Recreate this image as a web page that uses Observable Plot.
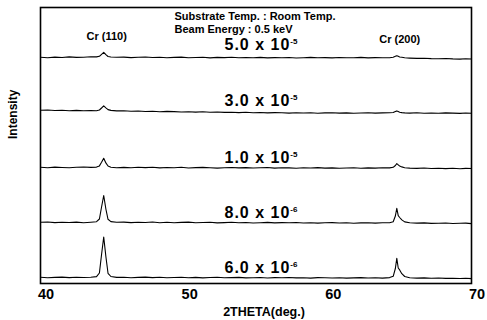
<!DOCTYPE html>
<html>
<head>
<meta charset="utf-8">
<script src="https://cdn.jsdelivr.net/npm/d3@7"></script>
<script src="https://cdn.jsdelivr.net/npm/@observablehq/plot@0.6"></script>
<style>
  html, body { margin: 0; padding: 0; background: #fff; }
  #chart svg { display: block; }
</style>
</head>
<body>
<div id="chart"></div>
<script>
// 2θ grid (deg.)
const angles = [40, 40.5, 41, 41.5, 42, 42.5, 43, 43.5,
  43.9, 44.1, 44.25, 44.4, 44.55, 44.7, 44.9,
  45.3,
  45.8, 46.3, 46.8, 47.3, 47.8, 48.3, 48.8, 49.3, 49.8, 50.3, 50.8, 51.3, 51.8, 52.3, 52.8, 53.3, 53.8, 54.3, 54.8,
  55.3, 55.8, 56.3, 56.8, 57.3, 57.8, 58.3, 58.8, 59.3, 59.8, 60.3, 60.8, 61.3, 61.8, 62.3, 62.8, 63.3, 63.8,
  64.3, 64.55, 64.7, 64.8, 64.9, 65.0, 65.15, 65.35,
  65.7, 66.2, 66.7, 67.2, 67.7, 68.2, 68.7, 69.2, 69.6, 70];

// pressure labels (mantissa x 10^exponent)
const mantissas = ["5.0", "3.0", "1.0", "8.0", "6.0"];
const exponents = ["-5", "-5", "-5", "-6", "-6"];
// vertical stacking offsets of the traces (a.u.)
const offsets = [226, 173, 116, 61, 6];

// intensities (a.u.) for each trace
const intensity1 = [0.3, -0.2, 0.4, 0, 0.6, 0.1, 0.3, 0.7,
  0.6, 1.2, 3.2, 5.2, 2.8, 1.0, 0.5,
  0.2,
  0.4, -0.1, 0.3, 0.5, 0, 0.2, -0.3, 0.1, 0.4, -0.2, 0, 0.3, -0.4, 0.1, -0.1, 0.2, -0.3, 0, -0.2,
  0.1, -0.4, -0.1, -0.3, 0, -0.5, -0.2, 0.1, -0.3, -0.1, -0.4, 0, -0.3, -0.2, 0.1, -0.4, -0.1, -0.2,
  -0.2, 0.3, 1.2, 1.8, 1.2, 0.5, 0.2, -0.3,
  -0.6, -0.9, -0.7, -1.1, -1.3, -1.0, -1.4, -1.6, -1.3, -1.5];
const intensity2 = [0.2, 0.5, 0, 0.3, -0.2, 0.1, -0.3, 0,
  -0.2, 0.5, 2.5, 4.6, 2.6, 0.9, 0.1,
  -0.4,
  -0.3, -0.8, -0.5, -1.0, -0.7, -1.2, -0.9, -1.1, -1.5, -1.2, -1.6, -1.3, -1.8, -1.5, -1.9, -1.7, -2.1, -1.8, -2.2,
  -2.0, -2.4, -2.1, -2.3, -2.6, -2.2, -2.5, -2.3, -2.7, -2.4, -2.2, -2.6, -2.4, -2.8, -2.5, -2.3, -2.6, -2.4,
  -2.3, -2.0, -1.0, -0.4, -1.0, -1.7, -2.1, -2.4,
  -2.6, -2.3, -2.7, -2.5, -2.8, -2.4, -2.6, -2.9, -2.5, -2.7];
const intensity3 = [0.3, -0.2, 0.4, 0, -0.3, 0.2, 0.5, 0.1,
  0.4, 1.6, 5.2, 9.2, 4.6, 1.5, 0.3,
  -0.2,
  0.1, -0.3, 0.2, -0.1, 0.3, -0.4, 0, -0.2, 0.2, -0.5, -0.1, 0.1, -0.3, -0.6, -0.2, 0, -0.4, -0.1, -0.5,
  -0.3, 0, -0.6, -0.2, -0.4, -0.7, -0.3, -0.5, -0.1, -0.6, -0.4, -0.8, -0.5, -0.3, -0.7, -0.4, -0.6, -0.3,
  -0.4, 0.2, 2.0, 3.8, 2.6, 1.4, 0.6, -0.2,
  -0.6, -0.9, -0.5, -1.0, -0.7, -1.1, -0.8, -1.2, -0.9, -1.0];
const intensity4 = [0.2, 0.5, -0.1, 0.3, 0, 0.4, -0.2, 0.3,
  0.8, 3.5, 15.5, 27, 13.5, 3.2, 0.9,
  0.2,
  0.4, -0.1, 0.3, 0, 0.5, -0.2, 0.2, -0.3, 0.1, 0.4, -0.2, 0, 0.3, -0.4, -0.1, 0.2, -0.3, 0, -0.5,
  -0.2, 0.1, -0.4, -0.1, -0.3, 0, -0.5, -0.2, -0.6, -0.3, -0.1, -0.5, -0.2, -0.7, -0.4, -0.2, -0.6, -0.3,
  -0.2, 0.8, 6.5, 14.2, 6.8, 5.0, 2.6, 0.6,
  -0.3, -0.6, -0.4, -0.9, -0.7, -0.5, -1.0, -0.8, -0.6, -1.1];
const intensity5 = [0.2, -0.3, 0.1, 0.4, -0.1, 0.3, 0, 0.2,
  0.9, 4.5, 23, 40.5, 21, 4.2, 1.0,
  0.1,
  0.3, -0.2, 0.1, 0.4, -0.1, 0.2, -0.3, 0, 0.3, -0.2, 0.1, -0.4, 0, 0.2, -0.3, -0.1, 0.1, -0.4, -0.2,
  0, -0.5, -0.1, -0.3, 0, -0.4, -0.2, -0.6, -0.1, -0.3, -0.5, -0.2, -0.6, -0.4, -0.1, -0.5, -0.3, -0.6,
  -0.1, 1.2, 9.0, 19.2, 9.5, 7.6, 3.8, 1.0,
  -0.2, -0.6, -0.4, -0.8, -0.5, -0.9, -0.7, -1.0, -0.8, -1.1];

const xTicks = [40, 50, 60, 70];
const peakLabels = ["Cr (110)", "Cr (200)"];
const peakAngles = [44.4, 64.8];
const headerLines = ["Substrate Temp. : Room Temp.", "Beam Energy : 0.5 keV"];
const xLabel = "2THETA(deg.)";
const yLabel = "Intensity";

const intensities = [intensity1, intensity2, intensity3, intensity4, intensity5];
const rows = intensities.flatMap((arr, i) =>
  arr.map((v, j) => ({angle: angles[j], value: v + offsets[i], series: i})));
const labelRows = mantissas.map((m, i) => ({text: `${m} x 10^${exponents[i]}`, y: offsets[i]}));
const peaks = peakAngles.map((a, i) => ({angle: a, text: peakLabels[i]}));

const font = "'Liberation Sans', Arial, Helvetica, sans-serif";

const plot = Plot.plot({
  width: 487,
  height: 320,
  marginLeft: 40,
  marginRight: 16,
  marginTop: 7,
  marginBottom: 37,
  style: {fontFamily: font, color: "black", background: "white"},
  x: {domain: [40, 70], axis: null},
  y: {domain: [0, 276], axis: null},
  marks: [
    Plot.line(rows, {x: "angle", y: "value", z: "series", stroke: "black", strokeWidth: 1.1, curve: "linear"}),
    Plot.frame({stroke: "black", strokeWidth: 1.6}),
    Plot.axisX(xTicks, {anchor: "bottom", tickSize: 0, tickPadding: 5, dx: 5.5, fontSize: 14.5, fontWeight: "bold", label: null, fill: "black"}),
    Plot.text([xLabel], {frameAnchor: "bottom", lineAnchor: "top", dx: 8, dy: 24, fontSize: 12.5, fontWeight: "bold", fill: "black"}),
    Plot.text([yLabel], {frameAnchor: "left", rotate: -90, dx: -27, dy: -6.5, fontSize: 12, fontWeight: "bold", fill: "black"}),
    Plot.text([headerLines.join("\n")], {frameAnchor: "top-left", textAnchor: "start", lineAnchor: "top", lineHeight: 1.15, dx: 134, dy: 4, fontSize: 11, fontWeight: "bold", fill: "black"}),
    Plot.text(peaks.slice(0, 1), {x: "angle", text: "text", frameAnchor: "top", lineAnchor: "top", dx: 3, dy: 25, fontSize: 11, fontWeight: "bold", fill: "black"}),
    Plot.text(peaks.slice(1), {x: "angle", text: "text", frameAnchor: "top", lineAnchor: "top", dx: 3, dy: 28, fontSize: 11, fontWeight: "bold", fill: "black"}),
    Plot.text(labelRows.slice(0, 1), {y: "y", text: "text", frameAnchor: "left", textAnchor: "start", dx: 184, dy: -13, fontSize: 16, fontWeight: "bold", fill: "black"}),
    Plot.text(labelRows.slice(1), {y: "y", text: "text", frameAnchor: "left", textAnchor: "start", dx: 184, dy: -9.5, fontSize: 16, fontWeight: "bold", fill: "black"})
  ]
});

// turn "a x 10^b" into a superscript exponent
d3.select(plot).selectAll("text").each(function () {
  const t = this.textContent;
  if (!t.includes("^")) return;
  const [base, exp] = t.split("^");
  const sel = d3.select(this);
  sel.text(null).attr("letter-spacing", 1);
  sel.append("tspan").text(base);
  sel.append("tspan").attr("dy", -6).attr("font-size", 8).attr("letter-spacing", 0).text(exp);
});

document.getElementById("chart").appendChild(plot);
</script>
</body>
</html>
